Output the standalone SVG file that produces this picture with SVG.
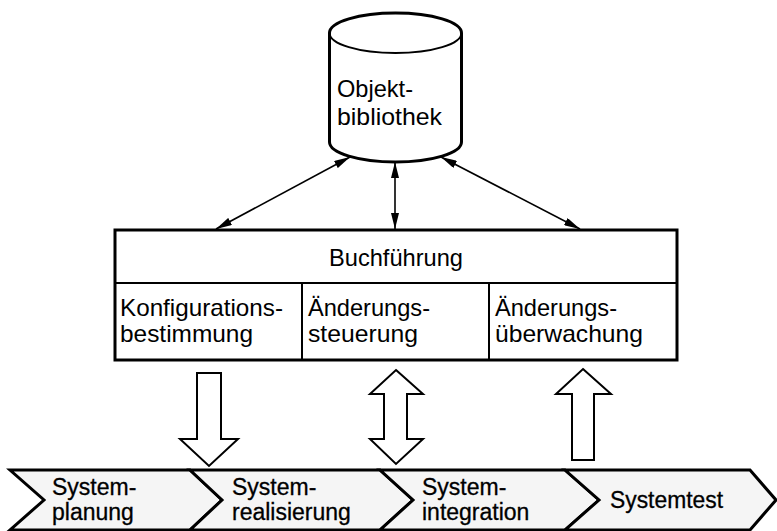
<svg xmlns="http://www.w3.org/2000/svg" width="777" height="531" viewBox="0 0 777 531">
  <style>
    text { font-family: "Liberation Sans", Arial, sans-serif; fill: #000; }
    .lbl { font-size: 24px; }
    .band { font-size: 23px; stroke: #000; stroke-width: 0.3; }
    .thick { fill: #fff; stroke: #000; stroke-width: 3; }
    .thin { fill: none; stroke: #000; stroke-width: 2; }
    .link { fill: none; stroke: #000; stroke-width: 1.6; }
    .hollow { fill: #fff; stroke: #000; stroke-width: 2; stroke-linejoin: miter; }
    .phase { fill: #f5f5f5; stroke: #000; stroke-width: 3; stroke-linejoin: miter; }
  </style>
  <defs>
    <marker id="head" viewBox="0 0 16 8" refX="16" refY="4" markerWidth="16" markerHeight="8" markerUnits="userSpaceOnUse" orient="auto-start-reverse">
      <path d="M0,0 L16,4 L0,8 z" fill="#000"/>
    </marker>
  </defs>

  <!-- object library (database cylinder) -->
  <g id="objektbibliothek">
    <path class="thick" d="M329.5,33 A66,20 0 0,1 461.5,33 L461.5,142 A66,20 0 0,1 329.5,142 Z"/>
    <path class="thin" d="M329.5,33 A66,20 0 0,0 461.5,33" stroke-width="3"/>
    <text class="lbl" x="337" y="97" font-size="26" textLength="76" lengthAdjust="spacingAndGlyphs">Objekt-</text>
    <text class="lbl" x="337" y="125" font-size="26" textLength="105" lengthAdjust="spacingAndGlyphs">bibliothek</text>
  </g>

  <!-- configuration management block -->
  <g id="buchfuehrung">
    <rect class="thick" x="115" y="230" width="562" height="130"/>
    <line class="thin" x1="115" y1="283" x2="677" y2="283"/>
    <text class="lbl" x="329" y="266" font-size="26" textLength="134" lengthAdjust="spacingAndGlyphs">Buchführung</text>
  </g>
  <g id="konfigurationsbestimmung">
    <text class="lbl" x="120" y="316" textLength="163" lengthAdjust="spacingAndGlyphs">Konfigurations-</text>
    <text class="lbl" x="120" y="342" textLength="133" lengthAdjust="spacingAndGlyphs">bestimmung</text>
  </g>
  <g id="aenderungssteuerung">
    <line class="thin" x1="302" y1="283" x2="302" y2="360"/>
    <text class="lbl" x="308" y="316" textLength="122" lengthAdjust="spacingAndGlyphs">Änderungs-</text>
    <text class="lbl" x="308" y="342" textLength="110" lengthAdjust="spacingAndGlyphs">steuerung</text>
  </g>
  <g id="aenderungsueberwachung">
    <line class="thin" x1="489" y1="283" x2="489" y2="360"/>
    <text class="lbl" x="495" y="316" textLength="122" lengthAdjust="spacingAndGlyphs">Änderungs-</text>
    <text class="lbl" x="495" y="342" textLength="148" lengthAdjust="spacingAndGlyphs">überwachung</text>
  </g>

  <!-- process phases -->
  <g id="systemplanung">
    <polygon class="phase" points="10,470 190,470 222,500 190,530 10,530 44,500"/>
    <text class="band" x="52" y="495">System-</text>
    <text class="band" x="52" y="520">planung</text>
  </g>
  <g id="systemrealisierung">
    <polygon class="phase" points="190,470 380,470 413,500 380,530 190,530 222,500"/>
    <text class="band" x="232" y="495">System-</text>
    <text class="band" x="232" y="520">realisierung</text>
  </g>
  <g id="systemintegration">
    <polygon class="phase" points="380,470 565,470 599,500 565,530 380,530 413,500"/>
    <text class="band" x="422" y="495">System-</text>
    <text class="band" x="422" y="520">integration</text>
  </g>
  <g id="systemtest">
    <polygon class="phase" points="565,470 750,470 776,500 750,530 565,530 599,500"/>
    <text class="band" x="610" y="508" textLength="113" lengthAdjust="spacingAndGlyphs">Systemtest</text>
  </g>

  <!-- connectors -->
  <g id="connectors">
    <line class="link" x1="350" y1="157" x2="216" y2="229" marker-start="url(#head)" marker-end="url(#head)"/>
    <line class="link" x1="395" y1="162" x2="395" y2="229" marker-start="url(#head)" marker-end="url(#head)"/>
    <line class="link" x1="441" y1="157" x2="580" y2="229" marker-start="url(#head)" marker-end="url(#head)"/>
    <!-- block arrows between the block and the phases -->
    <polygon class="hollow" points="197,373 221,373 221,439 238,439 209,466 180,439 197,439"/>
    <polygon class="hollow" points="396,370 423,394 407,394 407,439 423,439 396,464 370,439 384,439 384,394 370,394"/>
    <polygon class="hollow" points="583,369 611,394 594,394 594,460 572,460 572,394 556,394"/>
  </g>
</svg>
